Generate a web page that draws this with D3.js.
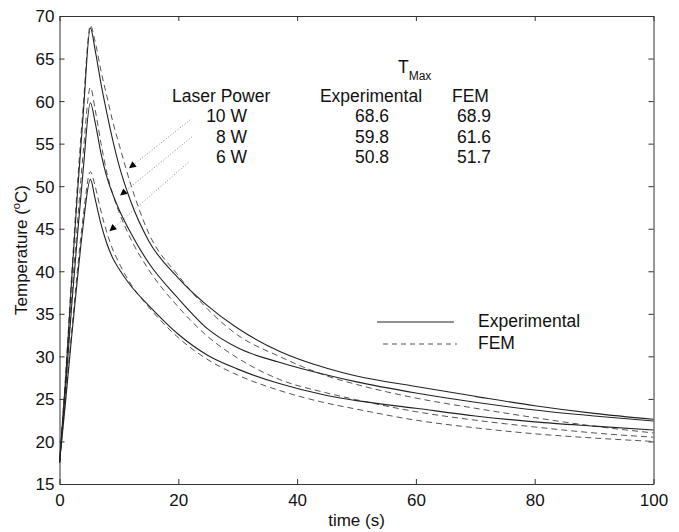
<!DOCTYPE html>
<html>
<head>
<meta charset="utf-8">
<script src="https://cdn.jsdelivr.net/npm/d3@7"></script>
<style>
body { margin: 0; background: white; }
text { font-family: "Liberation Sans", Arial, sans-serif; fill: #111; }
</style>
</head>
<body>
<div id="chart"></div>
<script>
// time points (s)
const time = [0, 1, 2, 3, 4, 5.2, 6, 7, 8, 9, 10, 12, 15, 20, 25, 30, 37, 45, 50, 60, 70, 80, 90, 100];

// temperatures (C)
const exp10 = [17.5, 27, 38.5, 49, 58.5, 68.6, 66, 62, 58.5, 55.3, 52.5, 48.2, 43.6, 39.2, 35.9, 33.3, 30.6, 28.6, 27.7, 26.45, 25.3, 24.2, 23.3, 22.6];
const fem10 = [17.5, 27.5, 39, 50, 59.5, 68.9, 67, 63.5, 60.5, 57.5, 55, 50.2, 44.5, 39.5, 35.5, 32.5, 30.0, 27.7, 26.7, 25.1, 23.9, 22.8, 21.8, 21.0];
const exp8 = [17.5, 26, 35.5, 44, 52, 59.8, 57.5, 53.8, 51, 49, 47.3, 44.5, 41, 36.8, 33.2, 31.0, 29.3, 27.8, 27.0, 25.7, 24.6, 23.7, 23.0, 22.4];
const fem8 = [17.5, 26.5, 36.5, 45.5, 54, 61.6, 59, 55, 51.5, 49, 47, 43.8, 40.2, 35.8, 32.3, 29.8, 27.3, 25.7, 24.9, 23.5, 22.5, 21.7, 21.0, 20.5];
const exp6 = [17.5, 24.5, 32, 39, 45.5, 50.8, 48.5, 45.5, 43.2, 41.5, 40.3, 38.3, 36, 32.6, 30.1, 28.5, 26.8, 25.4, 24.8, 23.9, 23.0, 22.3, 21.8, 21.35];
const fem6 = [17.5, 25, 32.5, 40, 46.5, 51.7, 50, 47, 44.5, 42.5, 41, 38.5, 35.8, 32.2, 29.6, 27.8, 26.0, 24.5, 23.8, 22.5, 21.6, 20.9, 20.4, 20.0];

const xTicks = [0, 20, 40, 60, 80, 100];
const yTicks = [15, 20, 25, 30, 35, 40, 45, 50, 55, 60, 65, 70];

const powers = ["10 W", "8 W", "6 W"];
const tmaxExp = ["68.6", "59.8", "50.8"];
const tmaxFem = ["68.9", "61.6", "51.7"];

// arrow annotations: [t0, T0, t1, T1] in data units
const arrows = [[22.0, 57.8, 11.7, 52.1], [22.3, 55.8, 10.2, 48.9], [21.7, 52.8, 8.4, 44.7]];

const W = 679, H = 532;
const mLeft = 59.5, mRight = 653.5, mTop = 16, mBottom = 484;

const svg = d3.select("#chart").append("svg")
  .attr("width", W)
  .attr("height", H);

const x = d3.scaleLinear().domain([0, 100]).range([mLeft, mRight]);
const y = d3.scaleLinear().domain([15, 70]).range([mBottom, mTop]);

// frame with inward ticks on all sides
const axisColor = "#333";
svg.append("g").attr("transform", `translate(0,${mBottom})`)
  .call(d3.axisBottom(x).tickValues(xTicks).tickSizeInner(-5).tickSizeOuter(0).tickPadding(10));
const ay = svg.append("g").attr("transform", `translate(${mLeft},0)`)
  .call(d3.axisLeft(y).tickValues(yTicks).tickSizeInner(-5).tickSizeOuter(0).tickPadding(5));
svg.append("g").attr("transform", `translate(0,${mTop})`)
  .call(d3.axisTop(x).tickValues(xTicks).tickSizeInner(-5).tickSizeOuter(0).tickFormat(""));
svg.append("g").attr("transform", `translate(${mRight},0)`)
  .call(d3.axisRight(y).tickValues(yTicks).tickSizeInner(-5).tickSizeOuter(0).tickFormat(""));

svg.selectAll(".domain").attr("stroke", axisColor);
svg.selectAll(".tick line").attr("stroke", axisColor);
svg.selectAll(".tick text")
  .style("font-size", "17px")
  .style("font-family", "'Liberation Sans', Arial, sans-serif")
  .attr("fill", "#111");
ay.selectAll(".tick text").attr("dy", "0.35em");

// axis titles
svg.append("text")
  .attr("x", (mLeft + mRight) / 2)
  .attr("y", 526)
  .attr("text-anchor", "middle")
  .style("font-size", "17px")
  .text("time (s)");

const yt = svg.append("text")
  .attr("transform", `translate(27,${(mTop + mBottom) / 2}) rotate(-90)`)
  .attr("text-anchor", "middle")
  .style("font-size", "17px");
yt.append("tspan").text("Temperature (");
yt.append("tspan").attr("dy", -7).style("font-size", "11px").text("o");
yt.append("tspan").attr("dy", 7).text("C)");

// curves
const line = d3.line()
  .x((d, i) => x(time[i]))
  .y(d => y(d))
  .curve(d3.curveMonotoneX);

const curves = [
  { v: fem10, dash: true }, { v: fem8, dash: true }, { v: fem6, dash: true },
  { v: exp10, dash: false }, { v: exp8, dash: false }, { v: exp6, dash: false }
];

svg.selectAll(".curve")
  .data(curves)
  .enter()
  .append("path")
  .attr("class", "curve")
  .attr("d", d => line(d.v))
  .attr("fill", "none")
  .attr("stroke", d => d.dash ? "#555" : "#222")
  .attr("stroke-width", d => d.dash ? 1 : 1.1)
  .attr("stroke-dasharray", d => d.dash ? "6,4" : null);

// arrows
svg.append("defs").append("marker")
  .attr("id", "head")
  .attr("viewBox", "0 0 10 10")
  .attr("refX", 10).attr("refY", 5)
  .attr("markerWidth", 10).attr("markerHeight", 7)
  .attr("markerUnits", "userSpaceOnUse")
  .attr("orient", "auto")
  .append("path")
  .attr("d", "M0,0 L10,5 L0,10 Z")
  .attr("fill", "#000");

svg.selectAll(".arrow")
  .data(arrows)
  .enter()
  .append("line")
  .attr("class", "arrow")
  .attr("x1", d => x(d[0])).attr("y1", d => y(d[1]))
  .attr("x2", d => x(d[2])).attr("y2", d => y(d[3]))
  .attr("stroke", "#888")
  .attr("stroke-width", 1)
  .attr("stroke-dasharray", "1,2")
  .attr("marker-end", "url(#head)");

// table
const tbl = svg.append("g").style("font-size", "17.5px");
const tm = tbl.append("text").attr("x", 398).attr("y", 73);
tm.append("tspan").text("T");
tm.append("tspan").attr("dy", 7).style("font-size", "12px").text("Max");

tbl.append("text").attr("x", 172).attr("y", 102).text("Laser Power");
tbl.append("text").attr("x", 371).attr("y", 102).attr("text-anchor", "middle").text("Experimental");
tbl.append("text").attr("x", 452).attr("y", 102).text("FEM");

const rowY = [122, 143, 163];
tbl.selectAll(".pw").data(powers).enter().append("text")
  .attr("x", 247).attr("y", (d, i) => rowY[i]).attr("text-anchor", "end").text(d => d);
tbl.selectAll(".te").data(tmaxExp).enter().append("text")
  .attr("x", 372).attr("y", (d, i) => rowY[i]).attr("text-anchor", "middle").text(d => d);
tbl.selectAll(".tf").data(tmaxFem).enter().append("text")
  .attr("x", 474).attr("y", (d, i) => rowY[i]).attr("text-anchor", "middle").text(d => d);

// legend
const lg = svg.append("g");
lg.append("line").attr("x1", 377).attr("x2", 454).attr("y1", 322).attr("y2", 322)
  .attr("stroke", "#222");
lg.append("line").attr("x1", 383).attr("x2", 457).attr("y1", 344).attr("y2", 344)
  .attr("stroke", "#555").attr("stroke-dasharray", "5,4");
lg.append("text").attr("x", 478).attr("y", 327).style("font-size", "17.5px").text("Experimental");
lg.append("text").attr("x", 478).attr("y", 349).style("font-size", "17.5px").text("FEM");
</script>
</body>
</html>
